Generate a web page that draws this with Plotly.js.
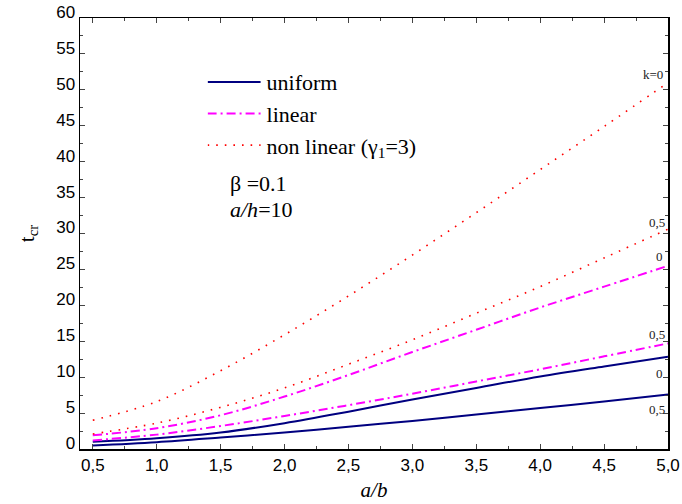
<!DOCTYPE html>
<html><head><meta charset="utf-8">
<script src="https://cdn.plot.ly/plotly-3.0.1.min.js"></script>
<style>body{margin:0;background:#fff}#c{width:682px;height:504px}</style>
</head><body><div id="c"></div>
<script>
var ab = [0.5, 1.0, 1.5, 2.0, 2.5, 3.0, 3.5, 4.0, 4.5, 5.0];
var uniformK0 = [1.0, 1.5, 2.3, 3.6, 5.2, 6.9, 8.5, 10.1, 11.5, 12.85];
var uniformK05 = [0.5, 0.95, 1.6, 2.3, 3.1, 3.9, 4.8, 5.7, 6.6, 7.6];
var linearK0 = [1.9, 2.9, 4.7, 7.3, 10.3, 13.5, 16.6, 19.7, 22.6, 25.5];
var linearK05 = [1.2, 2.0, 3.2, 4.6, 6.1, 7.7, 9.4, 11.1, 12.9, 14.7];
var nonlinK0 = [4.0, 6.6, 10.9, 15.9, 21.3, 27.0, 32.9, 38.9, 44.9, 51.0];
var nonlinK05 = [2.1, 3.6, 5.8, 8.5, 11.8, 15.2, 18.9, 22.6, 26.6, 30.6];
var xTicks = [0.5, 1.0, 1.5, 2.0, 2.5, 3.0, 3.5, 4.0, 4.5, 5.0];
var xTickText = ['0,5', '1,0', '1,5', '2,0', '2,5', '3,0', '3,5', '4,0', '4,5', '5,0'];
var endLabels = ['k=0', '0,5', '0', '0,5', '0', '0,5'];

var serif = 'Liberation Serif, Times New Roman, serif';
var navy = '#000080', mag = '#FF00FF', red = '#FF0000';
var uLine = {color: navy, width: 2, shape: 'spline'};
var lLine = {color: mag, width: 2, dash: '9px,4px,2px,4px', shape: 'spline'};
var nLine = {color: red, width: 1.6, dash: '1.6px,7px', shape: 'spline'};
var traces = [
  {x: ab, y: uniformK0, mode: 'lines', line: uLine, name: 'uniform', legendgroup: 'a'},
  {x: ab, y: uniformK05, mode: 'lines', line: uLine, showlegend: false, legendgroup: 'a'},
  {x: ab, y: linearK0, mode: 'lines', line: lLine, name: 'linear', legendgroup: 'b'},
  {x: ab, y: linearK05, mode: 'lines', line: lLine, showlegend: false, legendgroup: 'b'},
  {x: ab, y: nonlinK0, mode: 'lines', line: nLine, name: 'non linear (γ<sub>1</sub>=3)', legendgroup: 'c'},
  {x: ab, y: nonlinK05, mode: 'lines', line: nLine, showlegend: false, legendgroup: 'c'}
];
var last = ab.length - 1;
var endY = [nonlinK0[last] + 1.2, nonlinK05[last] + 1.0, linearK0[last] + 1.3, linearK05[last] + 1.3, uniformK0[last] - 2.3, uniformK05[last] - 2.1];
var endX = [4.88, 4.91, 4.93, 4.91, 4.93, 4.91];
var annots = endLabels.map(function (t, i) {
  return {x: endX[i], y: endY[i], xref: 'x', yref: 'y', text: t, showarrow: false,
    xanchor: 'center', yanchor: 'middle', font: {family: serif, size: 13, color: '#222'}};
});
annots.push({x: 0.252, y: 0.617, xref: 'paper', yref: 'paper', text: 'β =0.1', showarrow: false,
  xanchor: 'left', font: {family: serif, size: 22, color: '#000'}});
annots.push({x: 0.252, y: 0.555, xref: 'paper', yref: 'paper', text: '<i>a/h</i>=10', showarrow: false,
  xanchor: 'left', font: {family: serif, size: 22, color: '#000'}});

var layout = {
  width: 682, height: 504,
  margin: {l: 80, r: 14, t: 18, b: 55},
  paper_bgcolor: '#fff', plot_bgcolor: '#fff',
  font: {family: 'Liberation Sans, Arial', size: 17, color: '#000'},
  showlegend: true,
  legend: {x: 0.217, y: 0.9, xanchor: 'left', yanchor: 'top', bgcolor: 'rgba(0,0,0,0)',
    font: {family: serif, size: 22, color: '#000'}, tracegroupgap: 0, traceorder: 'grouped', itemwidth: 49},
  xaxis: {range: [0.4, 5.0], tickvals: xTicks, ticktext: xTickText, ticks: 'inside', ticklen: 5,
    showline: true, linecolor: '#000', linewidth: 1.5, mirror: 'ticks', showgrid: false, zeroline: false,
    minor: {dtick: 0.25, ticks: 'inside', ticklen: 3, tick0: 0.5},
    title: {text: '<i>a/b</i>', font: {family: serif, size: 21}, standoff: 8}},
  yaxis: {range: [0, 60], dtick: 5, ticks: 'inside', ticklen: 5, ticklabelshift: -6,
    showline: true, linecolor: '#000', linewidth: 1.5, mirror: 'ticks', showgrid: false, zeroline: false,
    minor: {dtick: 2.5, ticks: 'inside', ticklen: 3},
    title: {text: 't<sub>cr</sub>', font: {family: serif, size: 21}, standoff: 16}},
  annotations: annots
};
Plotly.newPlot('c', traces, layout, {displayModeBar: false, staticPlot: true}).then(function (gd) {
  gd.querySelectorAll('.legend .legendlines path').forEach(function (p) {
    p.setAttribute('d', 'M0,0h53');
  });
});
</script></body></html>
